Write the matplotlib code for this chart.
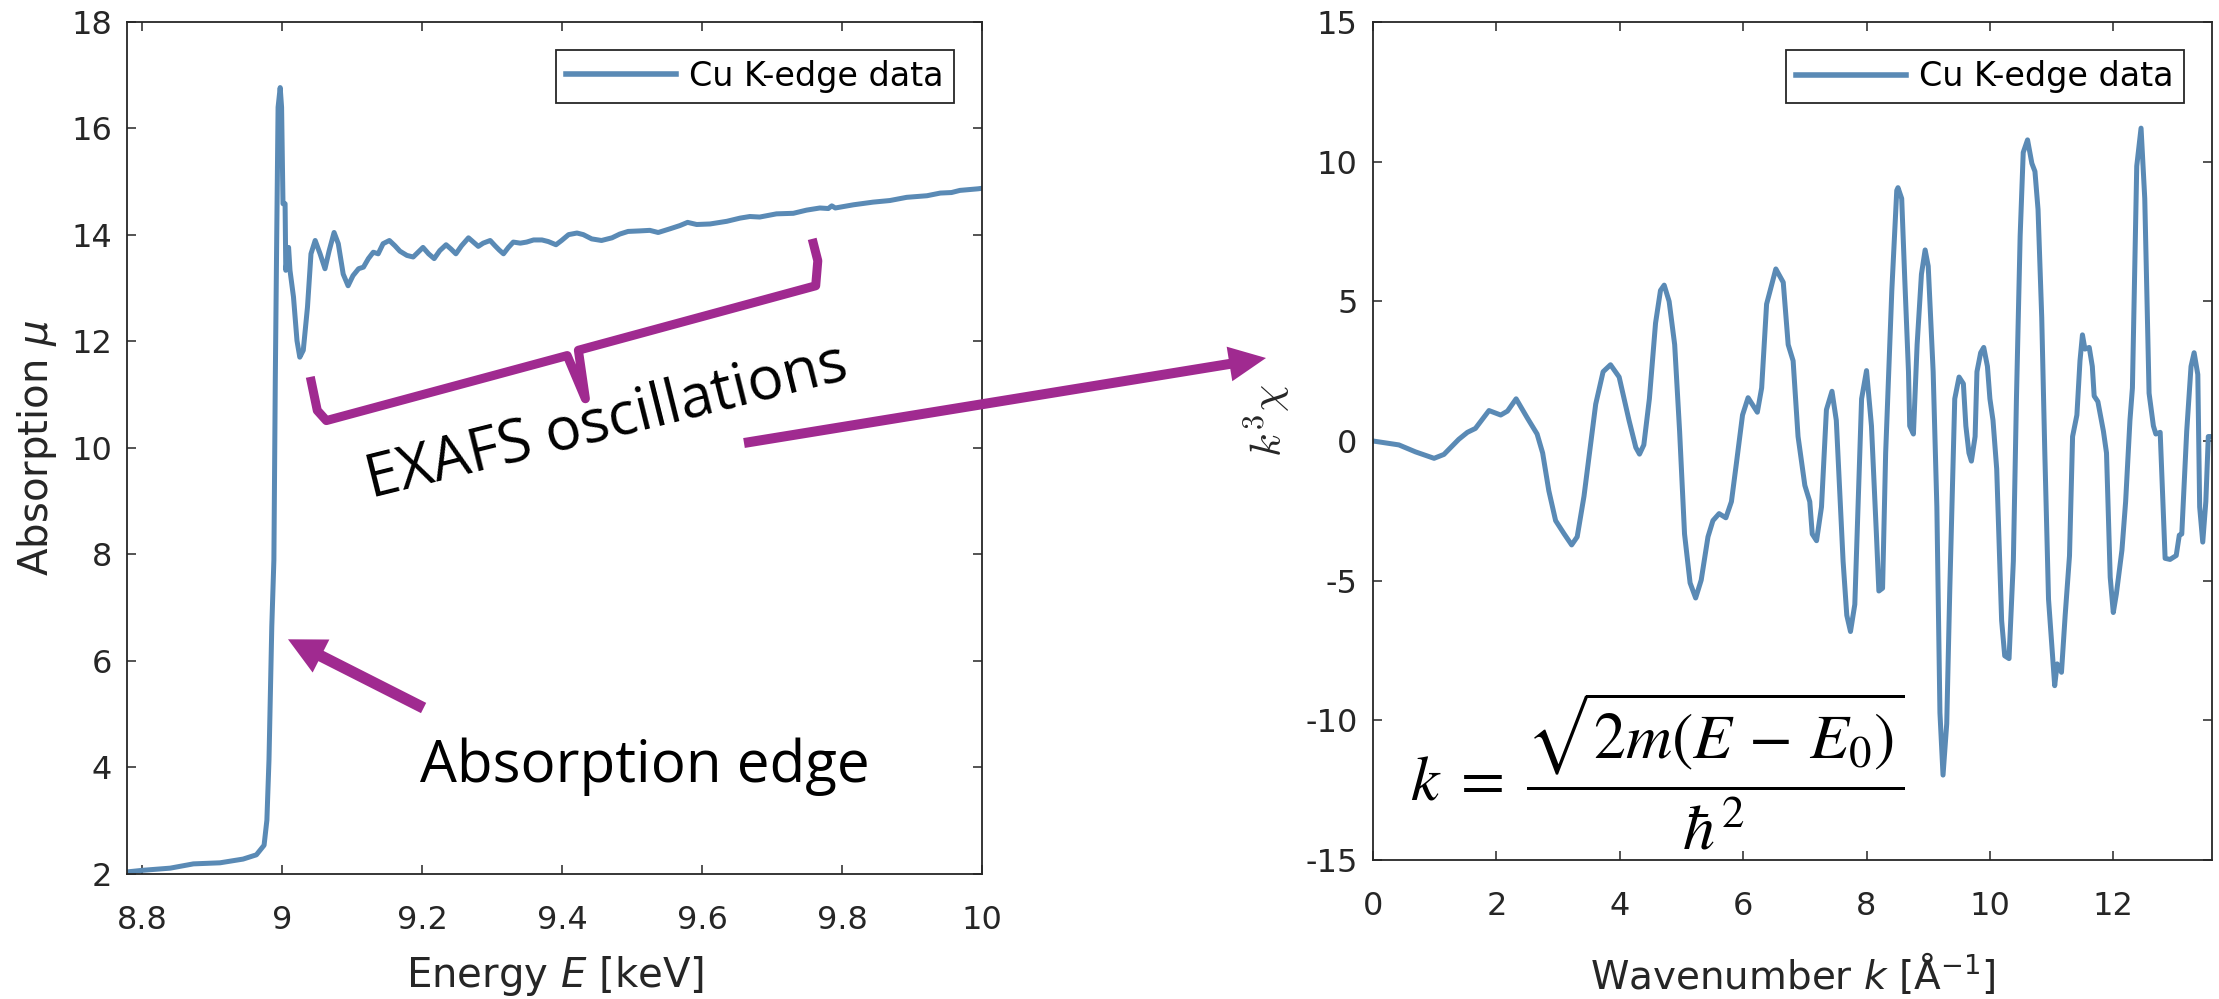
import matplotlib
matplotlib.use("Agg")
import matplotlib.pyplot as plt
from matplotlib.patches import FancyArrow
from matplotlib.ticker import FixedLocator, FixedFormatter
from matplotlib.transforms import IdentityTransform

# ---------------- data ----------------
energy_keV = [8.779, 8.801, 8.840, 8.873, 8.911, 8.944, 8.963, 8.974, 8.978, 8.981,
              8.985, 8.988, 8.990, 8.992, 8.994, 8.997, 8.999, 9.001, 9.004, 9.005,
              9.009, 9.011, 9.016, 9.021, 9.025, 9.030, 9.036, 9.041, 9.047, 9.054,
              9.061, 9.067, 9.074, 9.080, 9.087, 9.094, 9.101, 9.109, 9.116, 9.123,
              9.130, 9.137, 9.144, 9.153, 9.161, 9.168, 9.178, 9.187, 9.194, 9.201,
              9.209, 9.217, 9.225, 9.234, 9.241, 9.248, 9.256, 9.266, 9.273, 9.280,
              9.287, 9.297, 9.304, 9.310, 9.316, 9.323, 9.330, 9.340, 9.349, 9.359,
              9.371, 9.380, 9.391, 9.399, 9.409, 9.421, 9.430, 9.442, 9.456, 9.471,
              9.482, 9.494, 9.511, 9.525, 9.537, 9.554, 9.568, 9.579, 9.592, 9.611,
              9.635, 9.654, 9.668, 9.682, 9.706, 9.730, 9.749, 9.768, 9.780, 9.785,
              9.790, 9.816, 9.844, 9.868, 9.892, 9.921, 9.940, 9.956, 9.968, 9.994,
              10.000]
absorption = [2.04, 2.07, 2.11, 2.19, 2.21, 2.28, 2.36, 2.54, 3.01, 4.14,
              6.64, 7.89, 11.26, 13.89, 16.39, 16.76, 16.39, 14.58, 14.58, 13.33,
              13.76, 13.33, 12.83, 12.01, 11.70, 11.83, 12.64, 13.64, 13.89, 13.64,
              13.36, 13.70, 14.04, 13.83, 13.26, 13.04, 13.23, 13.36, 13.39, 13.55,
              13.67, 13.64, 13.83, 13.89, 13.79, 13.69, 13.61, 13.58, 13.67, 13.76,
              13.64, 13.55, 13.70, 13.81, 13.73, 13.64, 13.79, 13.94, 13.86, 13.78,
              13.84, 13.89, 13.79, 13.71, 13.64, 13.76, 13.86, 13.84, 13.86, 13.90,
              13.90, 13.87, 13.81, 13.89, 14.00, 14.03, 14.00, 13.92, 13.89, 13.94,
              14.01, 14.06, 14.07, 14.08, 14.04, 14.11, 14.17, 14.23, 14.19, 14.20,
              14.25, 14.31, 14.34, 14.33, 14.39, 14.40, 14.46, 14.50, 14.49, 14.54,
              14.50, 14.56, 14.61, 14.64, 14.70, 14.73, 14.78, 14.79, 14.83, 14.86,
              14.87]

wavenumber = [0.00, 0.42, 0.69, 0.99, 1.15, 1.39, 1.53, 1.66, 1.88, 2.07,
              2.18, 2.32, 2.50, 2.66, 2.75, 2.85, 2.96, 3.10, 3.22, 3.31,
              3.42, 3.61, 3.73, 3.85, 3.99, 4.15, 4.26, 4.32, 4.39, 4.48,
              4.58, 4.66, 4.72, 4.80, 4.89, 4.97, 5.05, 5.14, 5.23, 5.32,
              5.43, 5.51, 5.61, 5.72, 5.81, 5.89, 5.99, 6.08, 6.23, 6.30,
              6.38, 6.53, 6.65, 6.73, 6.81, 6.89, 7.00, 7.08, 7.12, 7.19,
              7.27, 7.35, 7.44, 7.51, 7.62, 7.68, 7.74, 7.81, 7.92, 8.00,
              8.08, 8.16, 8.20, 8.26, 8.31, 8.41, 8.49, 8.51, 8.57, 8.62,
              8.68, 8.70, 8.76, 8.82, 8.89, 8.95, 9.00, 9.08, 9.14, 9.19,
              9.24, 9.30, 9.35, 9.43, 9.50, 9.57, 9.61, 9.66, 9.70, 9.76,
              9.79, 9.85, 9.90, 9.96, 10.00, 10.05, 10.11, 10.19, 10.24, 10.31,
              10.38, 10.43, 10.49, 10.54, 10.61, 10.68, 10.73, 10.78, 10.84, 10.89,
              10.95, 11.00, 11.05, 11.09, 11.16, 11.22, 11.29, 11.34, 11.41, 11.46,
              11.50, 11.54, 11.61, 11.66, 11.69, 11.75, 11.84, 11.89, 11.95, 12.00,
              12.05, 12.14, 12.20, 12.27, 12.31, 12.38, 12.45, 12.51, 12.58, 12.65,
              12.69, 12.76, 12.84, 12.92, 13.02, 13.07, 13.11, 13.19, 13.26, 13.31,
              13.37, 13.40, 13.45, 13.50, 13.54, 13.59]
k3chi = [0.00, -0.14, -0.39, -0.62, -0.48, 0.06, 0.31, 0.45, 1.09, 0.93,
         1.07, 1.51, 0.83, 0.25, -0.43, -1.78, -2.85, -3.33, -3.72, -3.43,
         -1.98, 1.32, 2.48, 2.73, 2.29, 0.74, -0.23, -0.47, -0.14, 1.51,
         4.22, 5.39, 5.58, 5.00, 3.45, 0.35, -3.33, -5.08, -5.62, -4.98,
         -3.43, -2.85, -2.60, -2.75, -2.17, -0.81, 0.93, 1.55, 1.03, 1.90,
         4.90, 6.16, 5.68, 3.45, 2.87, 0.16, -1.59, -2.17, -3.33, -3.57,
         -2.36, 1.12, 1.78, 0.74, -4.30, -6.24, -6.82, -5.85, 1.51, 2.52,
         0.54, -3.33, -5.37, -5.27, -0.43, 5.39, 8.97, 9.07, 8.68, 5.78,
         2.48, 0.54, 0.25, 3.45, 5.97, 6.84, 6.26, 2.48, -2.36, -9.73,
         -11.96, -10.12, -5.27, 1.51, 2.29, 2.05, 0.54, -0.43, -0.72, 0.16,
         2.48, 3.16, 3.35, 2.67, 1.51, 0.74, -1.00, -6.43, -7.69, -7.79,
         -4.30, 1.51, 7.33, 10.33, 10.78, 9.94, 9.65, 8.29, 4.42, -0.43,
         -5.66, -7.21, -8.76, -7.98, -8.28, -6.24, -4.11, 0.16, 0.93, 2.87,
         3.80, 3.29, 3.35, 2.67, 1.61, 1.41, 0.35, -0.43, -4.88, -6.14,
         -5.47, -3.91, -2.17, 0.74, 1.90, 9.84, 11.20, 8.68, 1.71, 0.54,
         0.25, 0.31, -4.20, -4.24, -4.10, -3.37, -3.33, 0.35, 2.67, 3.16,
         2.38, -2.36, -3.62, -2.17, 0.16, 0.16]

left_xticks = [8.8, 9.0, 9.2, 9.4, 9.6, 9.8, 10.0]
left_xticklabels = ["8.8", "9", "9.2", "9.4", "9.6", "9.8", "10"]
left_yticks = [2, 4, 6, 8, 10, 12, 14, 16, 18]
right_xticks = [0, 2, 4, 6, 8, 10, 12]
right_yticks = [-15, -10, -5, 0, 5, 10, 15]
right_yticklabels = ["-15", "-10", "-5", "0", "5", "10", "15"]

series_label = "Cu K-edge data"

# annotation geometry (bracket in left-axes data units)
bracket_E = [9.040, 9.050, 9.063, 9.407, 9.433, 9.423, 9.762, 9.765, 9.757]
bracket_mu = [11.33, 10.70, 10.51, 11.73, 10.92, 11.83, 13.04, 13.51, 13.92]

# ---------------- style ----------------
W, H = 2219, 999
BLUE = "#5A8AB5"
MAGENTA = "#A02A90"
DARK = "#262626"
FONT = "DejaVu Sans"
plt.rcParams["font.family"] = [FONT]
plt.rcParams["axes.unicode_minus"] = False

fig = plt.figure(figsize=(W / 100, H / 100), dpi=100)


def px_rect(left, top, right, bottom):
    return [left / W, 1 - bottom / H, (right - left) / W, (bottom - top) / H]


ax1 = fig.add_axes(px_rect(127.3, 21.5, 982.3, 874))
ax2 = fig.add_axes(px_rect(1373, 22, 2212, 860))

for ax in (ax1, ax2):
    for sp in ax.spines.values():
        sp.set_linewidth(1.3)
        sp.set_color(DARK)
    ax.tick_params(direction="in", length=6.5, width=1.1, colors=DARK,
                   labelsize=23, top=True, right=True)
    ax.tick_params(axis="x", pad=22)
    ax.tick_params(axis="y", pad=11)

# left panel
ax1.plot(energy_keV, absorption, color=BLUE, lw=3.6, label=series_label,
         solid_joinstyle="round")
ax1.set_xlim(8.7786, 10.0)
ax1.set_ylim(2, 18)
ax1.xaxis.set_major_locator(FixedLocator(left_xticks))
ax1.xaxis.set_major_formatter(FixedFormatter(left_xticklabels))
ax1.yaxis.set_major_locator(FixedLocator(left_yticks))
ax1.set_xlabel("Energy $E$ [keV]", fontsize=29, color=DARK)
ax1.set_ylabel(r"Absorption $\mu$", fontsize=29, color=DARK)
ax1.xaxis.set_label_coords(0.5, -0.12)
ax1.xaxis.label.set_va("center")
ax1.yaxis.set_label_coords(-0.106, 0.5)
ax1.yaxis.label.set_va("center")

# right panel
ax2.plot(wavenumber, k3chi, color=BLUE, lw=3.6, label=series_label,
         solid_joinstyle="round")
ax2.set_xlim(0, 13.6)
ax2.set_ylim(-15, 15)
ax2.xaxis.set_major_locator(FixedLocator(right_xticks))
ax2.yaxis.set_major_locator(FixedLocator(right_yticks))
ax2.yaxis.set_major_formatter(FixedFormatter(right_yticklabels))
ax2.set_xlabel("Wavenumber $k$ [Å$^{\\mathregular{-1}}$]", fontsize=28, color=DARK)
ax2.set_ylabel(r"$k^3\chi$", fontsize=31, color=DARK)
ax2.yaxis.label.set_math_fontfamily("cm")
ax2.xaxis.set_label_coords(0.5, -0.1356)
ax2.xaxis.label.set_va("center")
ax2.yaxis.set_label_coords(-0.125, 0.525)
ax2.yaxis.label.set_va("center")

for ax in (ax1, ax2):
    leg = ax.legend(loc="upper right", fontsize=24, frameon=True, fancybox=False,
                    edgecolor=DARK, framealpha=1.0, handlelength=3.3,
                    borderaxespad=0.85, borderpad=0.3, handletextpad=0.4)
    leg.get_frame().set_linewidth(1.3)
    for line in leg.get_lines():
        line.set_linewidth(4.0)

# bracket for EXAFS oscillations
ax1.plot(bracket_E, bracket_mu, color=MAGENTA, lw=6.5, solid_joinstyle="round",
         solid_capstyle="butt", clip_on=False)


def pix(x, y):
    return x / W, 1 - y / H


def add_arrow_px(x0, y0, x1, y1, width, head_w, head_l):
    arr = FancyArrow(x0, H - y0, x1 - x0, -(y1 - y0), width=width,
                     head_width=head_w, head_length=head_l,
                     length_includes_head=True, color=MAGENTA, lw=0)
    arr.set_transform(IdentityTransform())
    fig.add_artist(arr)


add_arrow_px(744, 443, 1266, 358, 10, 35, 37)
add_arrow_px(423.6, 708, 288, 639.3, 11.5, 37, 37)

fig.text(*pix(607, 422), "EXAFS oscillations", fontsize=43, rotation=14,
         ha="center", va="center", rotation_mode="anchor", family="Open Sans",
         color="black")
fig.text(*pix(420, 782), "Absorption edge", fontsize=42, ha="left",
         va="baseline", family="Open Sans", color="black")

fig.text(*pix(1410, 852),
         r"$k\;=\;\dfrac{\sqrt{2m(E\,-\,E_0)}}{\hbar^2}$",
         fontsize=46, ha="left", va="bottom", math_fontfamily="stix",
         color="black")

fig.savefig("out.png", dpi=100)
